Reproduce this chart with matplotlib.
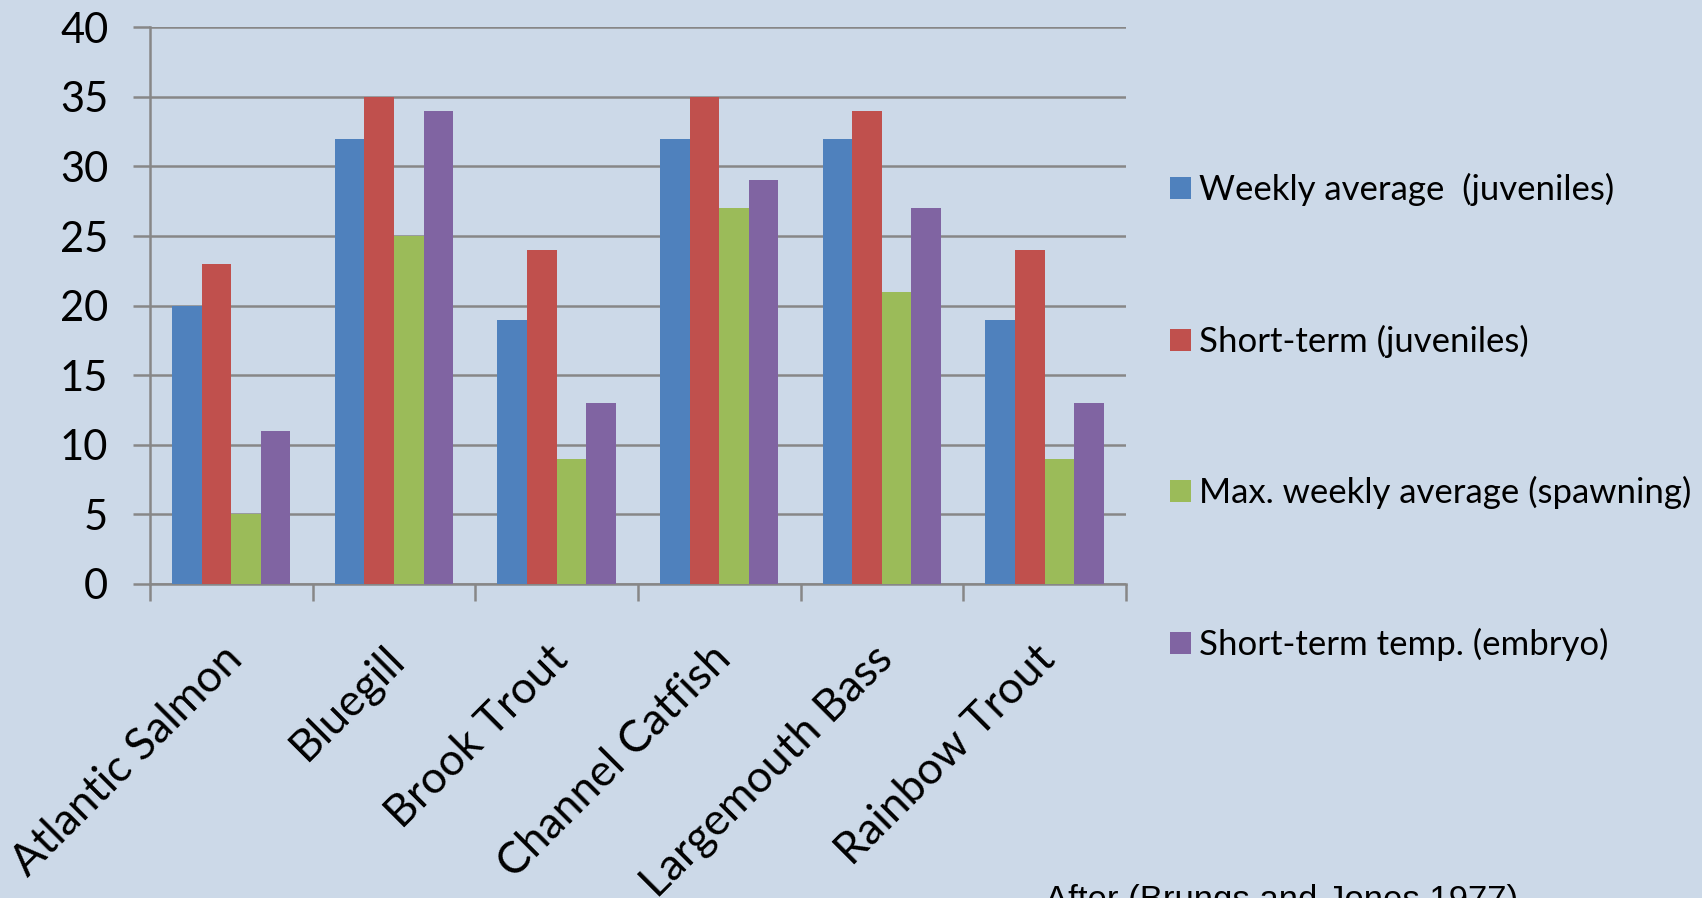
import matplotlib.pyplot as plt
import matplotlib.transforms as mtransforms
import numpy as np

species = ["Atlantic Salmon", "Bluegill", "Brook Trout", "Channel Catfish",
           "Largemouth Bass", "Rainbow Trout"]
series_names = ["Weekly average  (juveniles)", "Short-term (juveniles)",
                "Max. weekly average (spawning)", "Short-term temp. (embryo)"]
weekly_avg_juv = [20, 32, 19, 32, 32, 19]
short_term_juv = [23, 35, 24, 35, 34, 24]
max_weekly_spawn = [5, 25, 9, 27, 21, 9]
short_term_embryo = [11, 34, 13, 29, 27, 13]
y_ticks = [0, 5, 10, 15, 20, 25, 30, 35, 40]
source_note = "After (Brungs and Jones 1977)"

colors = ["#4F81BD", "#C0504D", "#9BBB59", "#8064A2"]
bg = "#CCD9E8"
grid_c = "#878787"

plt.rcParams['font.family'] = ['Lato', 'DejaVu Sans']

fig = plt.figure(figsize=(17.02, 8.98), dpi=100, facecolor=bg)
ax = fig.add_axes([0.0881, 0.3497, 0.5734, 0.6199])
ax.set_facecolor(bg)

x = np.arange(len(species))
w = 1 / 5.5
all_series = [weekly_avg_juv, short_term_juv, max_weekly_spawn, short_term_embryo]
for i, vals in enumerate(all_series):
    ax.bar(x + (i - 1.5) * w, vals, width=w, color=colors[i],
           label=series_names[i], zorder=3)

ax.set_xlim(-0.5, len(species) - 0.5)
ax.set_ylim(0, 40)
ax.set_yticks(y_ticks)
ax.yaxis.grid(True, color=grid_c, linewidth=1.8, zorder=1)
ax.set_axisbelow(True)

for s in ["top", "right"]:
    ax.spines[s].set_visible(False)
for s in ["left", "bottom"]:
    ax.spines[s].set_color(grid_c)
    ax.spines[s].set_linewidth(1.8)

ax.tick_params(axis='y', length=12, width=1.8, color=grid_c, labelsize=30,
               pad=18)
ax.set_xticks(x)
ax.set_xticklabels(species, rotation=45, ha='right', rotation_mode='anchor',
                   fontsize=32)
ax.tick_params(axis='x', length=0, pad=39)
# nudge the slanted labels a little to the left
shift = mtransforms.ScaledTranslation(-0.1, 0, fig.dpi_scale_trans)
for lbl in ax.get_xticklabels():
    lbl.set_transform(lbl.get_transform() + shift)
ax.set_xticks(np.arange(-0.5, len(species)), minor=True)
ax.tick_params(axis='x', which='minor', length=12, width=1.8, color=grid_c)

ax.legend(loc='center left', bbox_to_anchor=(0.6874, 0.5355),
          bbox_transform=fig.transFigure, frameon=False, fontsize=25,
          handlelength=0.605, handleheight=0.605, handletextpad=0.22,
          labelspacing=3.41, borderpad=0, borderaxespad=0)

fig.text(0.614, -0.013, source_note, family='Liberation Sans', fontsize=25,
         va='baseline', ha='left')

fig.savefig("out.png", dpi=100, facecolor=bg)
